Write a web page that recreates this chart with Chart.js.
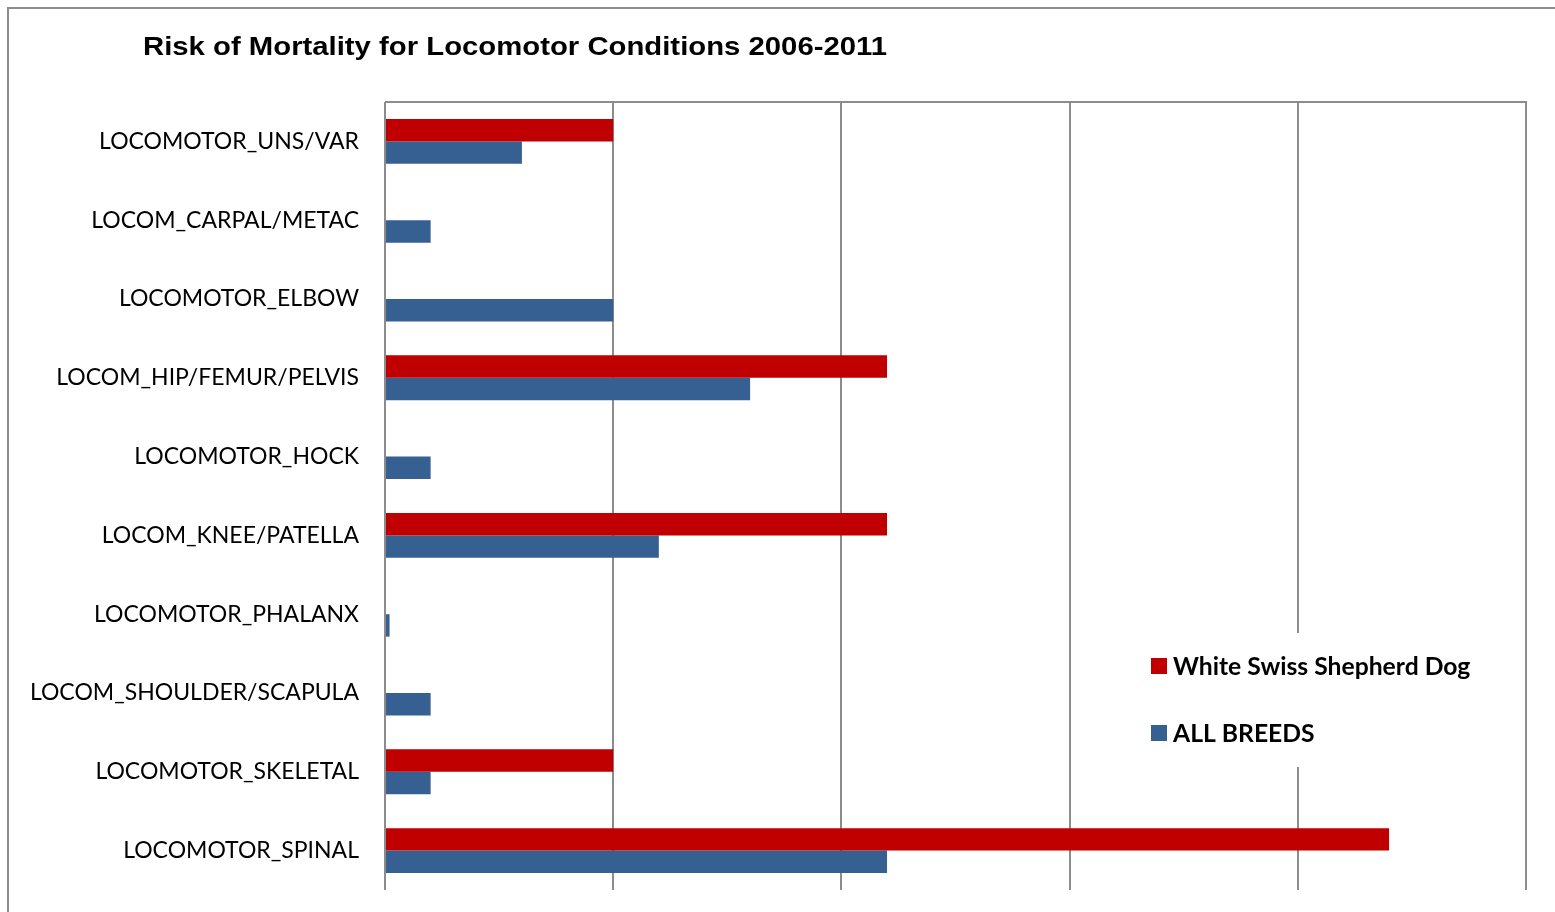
<!DOCTYPE html>
<html>
<head>
<meta charset="utf-8">
<script src="https://cdn.jsdelivr.net/npm/chart.js@4.4.0/dist/chart.umd.min.js"></script>
<style>
  body { margin: 0; background: #fff; overflow: hidden; }
  #grafico { display: block; }
</style>
</head>
<body>
<canvas id="grafico" width="1555" height="912"></canvas>
<script>
// dados do gráfico
var categorias = ['LOCOMOTOR_UNS/VAR', 'LOCOM_CARPAL/METAC', 'LOCOMOTOR_ELBOW', 'LOCOM_HIP/FEMUR/PELVIS',
    'LOCOMOTOR_HOCK', 'LOCOM_KNEE/PATELLA', 'LOCOMOTOR_PHALANX', 'LOCOM_SHOULDER/SCAPULA',
    'LOCOMOTOR_SKELETAL', 'LOCOMOTOR_SPINAL'];
var whiteSwiss = [1.0, 0, 0, 2.2, 0, 2.2, 0, 0, 1.0, 4.4];
var allBreeds = [0.6, 0.2, 1.0, 1.6, 0.2, 1.2, 0.02, 0.2, 0.2, 2.2];
var nomesSeries = ['White Swiss Shepherd Dog', 'ALL BREEDS'];
var titulo = 'Risk of Mortality for Locomotor Conditions 2006-2011';

var corVermelha = '#C00000';
var corAzul = '#376092';
var corLinha = '#8c8c8c';

// moldura, título, borda superior e legenda
var extras = {
    id: 'extras',
    afterDraw: function (chart) {
        var ctx = chart.ctx;
        var area = chart.chartArea;
        ctx.save();

        // moldura externa
        ctx.strokeStyle = corLinha;
        ctx.lineWidth = 2;
        ctx.beginPath();
        ctx.moveTo(8, 912);
        ctx.lineTo(8, 8);
        ctx.lineTo(1555, 8);
        ctx.stroke();

        // borda superior da área do gráfico
        ctx.beginPath();
        ctx.moveTo(area.left, area.top);
        ctx.lineTo(area.right + 1, area.top);
        ctx.stroke();

        // título (esticado na horizontal como no original)
        ctx.fillStyle = '#000';
        ctx.font = 'bold 26px "Liberation Sans", Arial, sans-serif';
        ctx.textAlign = 'left';
        ctx.textBaseline = 'alphabetic';
        var largura = ctx.measureText(titulo).width;
        ctx.save();
        ctx.translate(143, 55);
        ctx.scale(744 / largura, 1);
        ctx.fillText(titulo, 0, 0);
        ctx.restore();

        // legenda (fundo branco por cima das linhas de grade)
        ctx.fillStyle = '#fff';
        ctx.fillRect(1140, 633, 350, 134);
        var cores = [corVermelha, corAzul];
        var ys = [666, 733];
        ctx.font = 'bold 24.7px Lato, sans-serif';
        ctx.textBaseline = 'middle';
        for (var i = 0; i < nomesSeries.length; i++) {
            ctx.fillStyle = cores[i];
            ctx.fillRect(1151, ys[i] - 8, 16, 16);
            ctx.fillStyle = '#000';
            ctx.fillText(nomesSeries[i], 1173, ys[i] + 1);
        }
        ctx.restore();
    }
};

var ctx = document.getElementById('grafico').getContext('2d');
new Chart(ctx, {
    type: 'bar',
    data: {
        labels: categorias,
        datasets: [{
            label: nomesSeries[0],
            data: whiteSwiss,
            backgroundColor: corVermelha
        }, {
            label: nomesSeries[1],
            data: allBreeds,
            backgroundColor: corAzul
        }]
    },
    options: {
        indexAxis: 'y',
        responsive: false,
        animation: false,
        layout: {
            padding: { top: 102, right: 29, bottom: 22, left: 0 }
        },
        datasets: {
            bar: {
                categoryPercentage: 0.57,
                barPercentage: 1.0
            }
        },
        scales: {
            x: {
                min: 0,
                max: 5,
                ticks: { display: false, stepSize: 1 },
                grid: { color: corLinha, lineWidth: 2, drawTicks: false },
                border: { display: false },
                afterFit: function (scale) { scale.height = 0; }
            },
            y: {
                ticks: {
                    color: '#000',
                    padding: 26,
                    font: { family: 'Lato, sans-serif', size: 23 }
                },
                grid: { display: false, drawTicks: false },
                border: { display: false },
                afterFit: function (scale) {
                    scale.width = 385;
                    // sem margem extra em cima/embaixo por causa dos rótulos
                    scale.paddingTop = 0;
                    scale.paddingBottom = 0;
                }
            }
        },
        plugins: {
            legend: { display: false },
            title: { display: false },
            tooltip: { enabled: false }
        }
    },
    plugins: [extras]
});
</script>
</body>
</html>
